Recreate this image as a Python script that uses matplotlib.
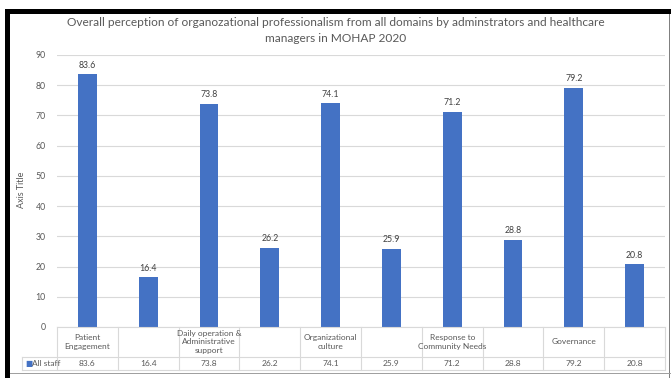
import matplotlib
matplotlib.use("Agg")
import matplotlib.pyplot as plt
from matplotlib.patches import Rectangle
from matplotlib.transforms import blended_transform_factory

categories = ["Patient\nEngagement", "", "Daily operation &\nAdministrative\nsupport", "",
              "Organizational\nculture", "", "Response to\nCommunity Needs", "",
              "Governance", ""]
values = [83.6, 16.4, 73.8, 26.2, 74.1, 25.9, 71.2, 28.8, 79.2, 20.8]
series_name = "All staff"
title = "Overall perception of organozational professionalism from all domains by adminstrators and healthcare\nmanagers in MOHAP 2020"

plt.rcParams['font.family'] = ['Lato', 'DejaVu Sans']
W, H = 671, 378
fig = plt.figure(figsize=(W/100, H/100), dpi=100)
fig.patch.set_facecolor('white')

def fx(px): return px / W
def fy(py): return 1 - py / H

ax_l, ax_r, ax_t, ax_b = 57, 665, 55, 327
ax = fig.add_axes([fx(ax_l), fy(ax_b), fx(ax_r) - fx(ax_l), fy(ax_t) - fy(ax_b)])
n = len(values)
x = list(range(n))
bar_color = '#4472C4'
text_color = '#595959'
grid_color = '#d9d9d9'
ax.bar(x, values, width=0.31, color=bar_color, zorder=3)
ax.set_xlim(-0.5, n - 0.5)
ax.set_ylim(0, 90)
ax.set_yticks(range(0, 91, 10))
ax.yaxis.grid(True, color=grid_color, linewidth=0.8, zorder=0)
ax.tick_params(axis='y', length=0, labelsize=6.3, labelcolor=text_color, pad=8)
ax.set_xticks([])
for s in ax.spines.values():
    s.set_visible(False)
for xi, v in zip(x, values):
    ax.text(xi, v + 1.5, f"{v}", ha='center', va='bottom', fontsize=6.3, color='#404040')

fig.text(fx(22), fy(190), "Axis Title", rotation=90, ha='center', va='center',
         fontsize=6.5, color=text_color)

fig.text(0.5, fy(30.5), title, ha='center', va='center', fontsize=8.6, color=text_color,
         linespacing=1.6)

# data table
axh = ax_b - ax_t
axw = ax_r - ax_l
r1 = -(357 - ax_b) / axh
r2 = -(370 - ax_b) / axh
leg_x = (22 - ax_l) / axw
tr = blended_transform_factory(ax.transData, ax.transAxes)
tra = ax.transAxes
lw = 0.8
ax.plot([-0.5, n - 0.5], [0, 0], transform=tr, color=grid_color, lw=lw, clip_on=False, zorder=4)
ax.plot([leg_x, 1], [r1, r1], transform=tra, color=grid_color, lw=lw, clip_on=False)
ax.plot([leg_x, 1], [r2, r2], transform=tra, color=grid_color, lw=lw, clip_on=False)
ax.plot([leg_x, leg_x], [r1, r2], transform=tra, color=grid_color, lw=lw, clip_on=False)
for i in range(n + 1):
    ax.plot([i - 0.5, i - 0.5], [0, r2], transform=tr, color=grid_color, lw=lw, clip_on=False)
for xi, c, v in zip(x, categories, values):
    if c:
        ax.text(xi, r1 / 2, c, transform=tr, ha='center', va='center', fontsize=6.0,
                color=text_color, linespacing=1.2)
    ax.text(xi, (r1 + r2) / 2, f"{v}", transform=tr, ha='center', va='center', fontsize=6.0,
            color=text_color)
ax.text(leg_x + 0.005, (r1 + r2) / 2, "\u25a0", transform=tra, ha='left', va='center',
        fontsize=5.5, color=bar_color, family='DejaVu Sans')
ax.text(leg_x + 0.017, (r1 + r2) / 2, series_name, transform=tra, ha='left', va='center',
        fontsize=6.0, color=text_color)

# screenshot frame
fig.add_artist(Rectangle((fx(5), fy(14)), 1 - fx(5), fy(9) - fy(14), transform=fig.transFigure,
                         color='black', lw=0))
fig.add_artist(Rectangle((fx(5), 0), fx(10) - fx(5), fy(9), transform=fig.transFigure,
                         color='black', lw=0))
fig.add_artist(Rectangle((fx(668.5), 0), fx(1.2), fy(14), transform=fig.transFigure,
                         color='#808080', lw=0))
fig.add_artist(Rectangle((fx(10), fy(374)), 1 - fx(10), fx(1), transform=fig.transFigure,
                         color='#a0a0a0', lw=0))

fig.savefig("out.png", dpi=100)
